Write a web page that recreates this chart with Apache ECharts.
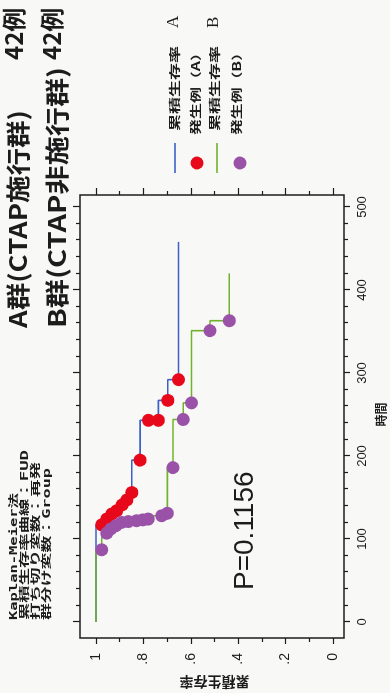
<!DOCTYPE html>
<html>
<head>
<meta charset="UTF-8" />
<script src="https://cdn.jsdelivr.net/npm/echarts@6/dist/echarts.min.js"></script>
<style type="text/css">
    *{
        margin: 0;
        padding: 0;
    }
    body{
        background: #f8f8f6;
        width: 390px;
        height: 693px;
        overflow: hidden;
    }
    /* chart is drawn landscape, then turned a quarter left like the scan */
    .main{
        position: absolute;
        left: 0;
        top: 0;
        width: 693px;
        height: 390px;
        transform-origin: 0 0;
        transform: translateY(693px) rotate(-90deg);
    }
</style>
</head>
<body>
<div class="main" id="main"></div>
<script type="text/javascript">
    // A群 (CTAP施行群): 発生例 time / survival after event
    var timeA = [117, 124, 130, 134, 141, 147, 156, 195, 243, 243, 267, 292];
    var survA = [0.976, 0.955, 0.934, 0.913, 0.89, 0.87, 0.849, 0.814, 0.779, 0.737, 0.697, 0.652];
    var lastA = 458;
    // B群 (CTAP非施行群)
    var timeB = [87, 107, 112, 116, 120, 121, 122, 123, 124, 128, 131, 186, 244, 264, 351, 363];
    var survB = [0.976, 0.955, 0.938, 0.916, 0.892, 0.864, 0.829, 0.803, 0.78, 0.723, 0.699, 0.675, 0.632, 0.597, 0.519, 0.4375];
    var lastB = 420;
    // axis labels
    var timeLabels = ['0', '100', '200', '300', '400', '500'];
    var survLabels = ['0', '.2', '.4', '.6', '.8', '1'];

    var CJK = "'Noto Sans CJK JP', sans-serif";
    var MONO = "'DejaVu Sans Mono', 'Noto Sans CJK JP', monospace";

    function points(times, surv) {
        var pts = [];
        for (var i = 0; i < times.length; i++) {
            pts.push([times[i], surv[i]]);
        }
        return pts;
    }
    function curve(times, surv, last) {
        var pts = [[0, 1]].concat(points(times, surv));
        pts.push([last, surv[surv.length - 1]]);
        return pts;
    }

    // stretch text along its line so it covers the same length as the scan
    var ctx = document.createElement('canvas').getContext('2d');
    function stretch(text, font, target) {
        ctx.font = font;
        return target / ctx.measureText(text).width;
    }
    function label(text, x, y, font, target) {
        return {
            type: 'text',
            x: x,
            y: y,
            scaleX: target ? stretch(text, font, target) : 1,
            style: {
                text: text,
                font: font,
                fill: '#1c1c1c',
                textAlign: 'left',
                verticalAlign: 'middle'
            }
        };
    }

    var myChart = echarts.init(document.getElementById('main'));

    var tickStyle = { color: '#1c1c1c', width: 1.2 };
    var option = {
        animation: false,
        grid: {
            left: 71,
            right: 207,
            top: 96,
            bottom: 57,
            containLabel: false,
            outerBoundsMode: 'none'
        },
        xAxis: [{
            type: 'value',
            position: 'bottom',
            offset: 11,
            min: 0,
            max: 500,
            interval: 100,
            axisLine: { show: false, onZero: false },
            axisTick: { length: 6, lineStyle: tickStyle },
            minorTick: { show: true, splitNumber: 5, length: 4, lineStyle: tickStyle },
            splitLine: { show: false },
            axisLabel: {
                margin: 12,
                fontSize: 13,
                fontFamily: 'Liberation Sans',
                color: '#1c1c1c',
                formatter: function (v) { return timeLabels[Math.round(v / 100)]; }
            },
            name: '時間',
            nameLocation: 'middle',
            nameGap: 31,
            nameMoveOverlap: false,
            nameTextStyle: { fontSize: 12, fontWeight: 'bold', fontFamily: CJK, color: '#1c1c1c' }
        }, {
            type: 'value',
            position: 'top',
            offset: 16,
            min: 0,
            max: 500,
            interval: 100,
            axisLine: { show: false, onZero: false },
            axisTick: { length: 7, lineStyle: tickStyle },
            minorTick: { show: true, splitNumber: 5, length: 4, lineStyle: tickStyle },
            splitLine: { show: false },
            axisLabel: { show: false }
        }],
        yAxis: [{
            type: 'value',
            position: 'left',
            offset: 16,
            min: 0,
            max: 1,
            interval: 0.2,
            axisLine: { show: false, onZero: false },
            axisTick: { length: 6, lineStyle: tickStyle },
            minorTick: { show: true, splitNumber: 2, length: 4, lineStyle: tickStyle },
            splitLine: { show: false },
            axisLabel: {
                margin: 15,
                fontSize: 14,
                fontFamily: 'Liberation Sans',
                color: '#1c1c1c',
                formatter: function (v) { return survLabels[Math.round(v * 5)]; }
            },
            name: '累積生存率',
            nameLocation: 'middle',
            nameRotate: 90,
            nameGap: 36,
            nameTextStyle: { fontSize: 14, fontWeight: 'bold', fontFamily: CJK, color: '#1c1c1c' }
        }, {
            type: 'value',
            position: 'right',
            offset: 12,
            min: 0,
            max: 1,
            interval: 0.2,
            axisLine: { show: false, onZero: false },
            axisTick: { length: 7, lineStyle: tickStyle },
            minorTick: { show: true, splitNumber: 2, length: 4, lineStyle: tickStyle },
            splitLine: { show: false },
            axisLabel: { show: false }
        }],
        series: [{
            name: '累積生存率 A',
            type: 'line',
            step: 'end',
            clip: false,
            symbol: 'none',
            data: curve(timeA, survA, lastA),
            lineStyle: { color: '#3d5fc6', width: 1.6 },
            z: 2
        }, {
            name: '累積生存率 B',
            type: 'line',
            step: 'end',
            clip: false,
            symbol: 'none',
            data: curve(timeB, survB, lastB),
            lineStyle: { color: '#71b22c', width: 1.6 },
            z: 2
        }, {
            name: '発生例（A）',
            type: 'scatter',
            clip: false,
            symbolSize: 13,
            data: points(timeA, survA),
            itemStyle: { color: '#e8081c', opacity: 1 },
            z: 3
        }, {
            name: '発生例（B）',
            type: 'scatter',
            clip: false,
            symbolSize: 13,
            data: points(timeB, survB),
            itemStyle: { color: '#9a52a9', opacity: 1 },
            z: 4
        }],
        graphic: [
            // plot frame
            {
                type: 'rect',
                shape: { x: 55, y: 80, width: 443, height: 264 },
                style: { fill: null, stroke: '#1c1c1c', lineWidth: 1.5 }
            },
            // titles
            label('A群(CTAP施行群)', 365, 18, 'bold 24px ' + CJK, 218),
            label('42例', 633, 14, 'bold 24px ' + CJK),
            label('B群(CTAP非施行群)', 365, 57, 'bold 24px ' + CJK, 261),
            label('42例', 633, 52, 'bold 24px ' + CJK),
            // method notes
            label('Kaplan-Meier法', 73, 14, 'bold 10px ' + MONO, 127),
            label('累積生存率曲線：FUD', 73, 25, 'bold 10px ' + MONO, 170),
            label('打ち切り変数：再発', 73, 36, 'bold 10px ' + MONO, 158),
            label('群分け変数：Group', 73, 47, 'bold 10px ' + MONO, 152),
            // legend
            {
                type: 'line',
                shape: { x1: 520, y1: 175, x2: 550, y2: 175 },
                style: { stroke: '#3d5fc6', lineWidth: 1.6 }
            },
            {
                type: 'circle',
                shape: { cx: 530, cy: 197, r: 6.5 },
                style: { fill: '#e8081c' }
            },
            {
                type: 'line',
                shape: { x1: 520, y1: 217, x2: 550, y2: 217 },
                style: { stroke: '#71b22c', lineWidth: 1.6 }
            },
            {
                type: 'circle',
                shape: { cx: 530, cy: 240, r: 6.5 },
                style: { fill: '#9a52a9' }
            },
            label('累積生存率', 562, 175, 'bold 11px ' + CJK, 85),
            label('A', 665, 174, '17px Liberation Serif'),
            label('発生例（A）', 558, 196, 'bold 11px ' + CJK, 90),
            label('累積生存率', 562, 215, 'bold 11px ' + CJK, 85),
            label('B', 665, 214, '17px Liberation Serif'),
            label('発生例（B）', 558, 237, 'bold 11px ' + CJK, 90),
            // log-rank p
            label('P=0.1156', 103, 245, '28px Liberation Sans')
        ]
    };
    myChart.setOption(option);
</script>
</body>
</html>
